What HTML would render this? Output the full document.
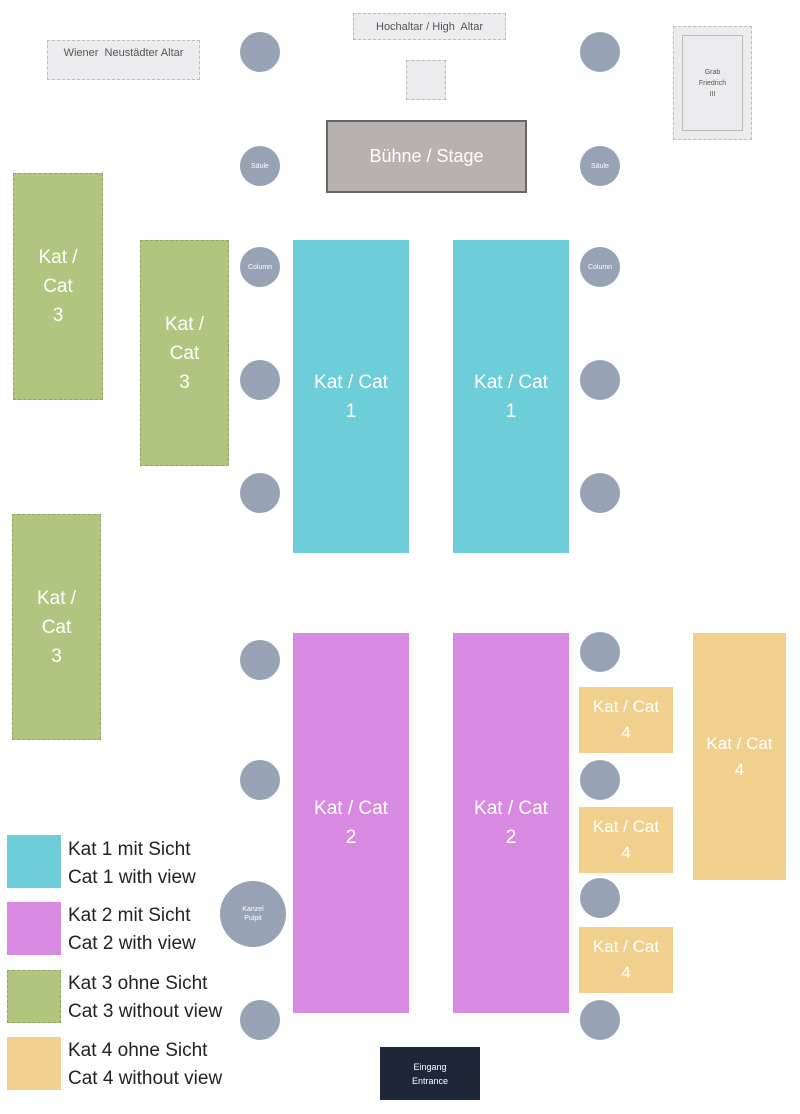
<!DOCTYPE html>
<html><head><style>
body{margin:0;width:800px;height:1114px;background:#fff;position:relative;overflow:hidden;font-family:"Liberation Sans",sans-serif}
div{position:absolute;box-sizing:border-box}
.r{display:flex;align-items:center;justify-content:center;text-align:center;color:#fff;font-size:19px;line-height:29px}
.c1{background:#6dcdd9}.c2{background:#d88ae3}.c3{background:#b0c680;border:1px dashed #8fa960}.c4{background:#f0d08c}
.o{background:#97a3b5;border-radius:50%;width:40px;height:40px;color:#fff;font-size:7px;display:flex;align-items:center;justify-content:center;text-align:center;line-height:9px}
.g{background:#ecebee;border:1px dashed #bbb;color:#555;font-size:11px;display:flex;justify-content:center}
.lt{left:68px;font-size:19px;color:#222;line-height:28px;white-space:nowrap}
</style></head><body>
<div class="g" style="left:47px;top:40px;width:153px;height:40px;padding-top:6px">Wiener&nbsp; Neustädter Altar</div>
<div class="g" style="left:353px;top:13px;width:153px;height:27px;align-items:center">Hochaltar / High&nbsp; Altar</div>
<div class="g" style="left:406px;top:60px;width:40px;height:40px"></div>
<div class="g" style="left:673px;top:26px;width:79px;height:114px;padding:4px"><div style="left:8px;top:8px;right:8px;bottom:8px;border:1px solid #bbb;font-size:7px;display:flex;align-items:center;justify-content:center;text-align:center;line-height:11px">Grab<br>Friedrich<br>III</div></div>
<div class="r" style="left:326px;top:120px;width:201px;height:73px;background:#b9b0b0;border:2px solid #666;font-size:18px">Bühne / Stage</div>

<div class="o" style="left:240px;top:32px"></div><div class="o" style="left:580px;top:32px"></div>
<div class="o" style="left:240px;top:146px">Säule</div><div class="o" style="left:580px;top:146px">Säule</div>
<div class="o" style="left:240px;top:247px">Column</div><div class="o" style="left:580px;top:247px">Column</div>
<div class="o" style="left:240px;top:360px"></div><div class="o" style="left:580px;top:360px"></div>
<div class="o" style="left:240px;top:473px"></div><div class="o" style="left:580px;top:473px"></div>
<div class="o" style="left:240px;top:640px"></div><div class="o" style="left:580px;top:632px"></div>
<div class="o" style="left:240px;top:760px"></div><div class="o" style="left:580px;top:760px"></div>
<div class="o" style="left:220px;top:881px;width:66px;height:66px">Kanzel<br>Pulpit</div><div class="o" style="left:580px;top:878px"></div>
<div class="o" style="left:240px;top:1000px"></div><div class="o" style="left:580px;top:1000px"></div>

<div class="r c1" style="left:293px;top:240px;width:116px;height:313px">Kat / Cat<br>1</div>
<div class="r c1" style="left:453px;top:240px;width:116px;height:313px">Kat / Cat<br>1</div>
<div class="r c2" style="left:293px;top:633px;width:116px;height:380px">Kat / Cat<br>2</div>
<div class="r c2" style="left:453px;top:633px;width:116px;height:380px">Kat / Cat<br>2</div>
<div class="r c3" style="left:13px;top:173px;width:90px;height:227px">Kat /<br>Cat<br>3</div>
<div class="r c3" style="left:140px;top:240px;width:89px;height:226px">Kat /<br>Cat<br>3</div>
<div class="r c3" style="left:12px;top:514px;width:89px;height:226px">Kat /<br>Cat<br>3</div>
<div class="r c4" style="left:579px;top:687px;width:94px;height:66px;font-size:17px;line-height:26px">Kat / Cat<br>4</div>
<div class="r c4" style="left:579px;top:807px;width:94px;height:66px;font-size:17px;line-height:26px">Kat / Cat<br>4</div>
<div class="r c4" style="left:579px;top:927px;width:94px;height:66px;font-size:17px;line-height:26px">Kat / Cat<br>4</div>
<div class="r c4" style="left:693px;top:633px;width:93px;height:247px;font-size:17px;line-height:26px">Kat / Cat<br>4</div>

<div class="c1" style="left:7px;top:835px;width:54px;height:53px"></div>
<div class="lt" style="top:836px">Kat 1 mit Sicht<br>Cat 1 with view</div>
<div class="c2" style="left:7px;top:902px;width:54px;height:53px"></div>
<div class="lt" style="top:902px">Kat 2 mit Sicht<br>Cat 2 with view</div>
<div class="c3" style="left:7px;top:970px;width:54px;height:53px"></div>
<div class="lt" style="top:970px">Kat 3 ohne Sicht<br>Cat 3 without view</div>
<div class="c4" style="left:7px;top:1037px;width:54px;height:53px"></div>
<div class="lt" style="top:1037px">Kat 4 ohne Sicht<br>Cat 4 without view</div>

<div class="r" style="left:380px;top:1047px;width:100px;height:53px;background:#1e2738;font-size:9px;line-height:14px">Eingang<br>Entrance</div>
</body></html>
